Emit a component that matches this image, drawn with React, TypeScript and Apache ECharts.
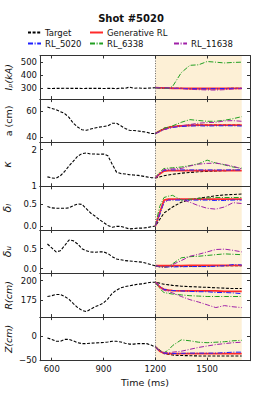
import React, { useEffect, useRef } from "react";
import * as echarts from "echarts";

// ---------- data ----------
const timeTarget = [575, 600, 625, 650, 675, 700, 725, 750, 775, 800, 825, 850, 875, 900, 925, 950, 975, 1000, 1025, 1050, 1075, 1100, 1125, 1150, 1175, 1200, 1250, 1300, 1350, 1400, 1450, 1500, 1550, 1600, 1650, 1700];
const timeRL = [1200, 1225, 1250, 1275, 1300, 1350, 1400, 1450, 1500, 1550, 1600, 1650, 1700];
const xTicks = [600, 900, 1200, 1500];

// Ip (kA)
const ipTarget = [300, 299, 300, 300, 301, 300, 300, 300, 299, 300, 300, 300, 300, 299, 300, 300, 298, 302, 300, 310, 300, 303, 300, 301, 303, 305, 302, 300, 300, 298, 298, 297, 298, 299, 300, 300];
const ipGen = [305, 304, 303, 302, 301, 300, 299, 299, 299, 299, 299, 300, 300];
const ip5020 = [305, 304, 303, 302, 300, 300, 298, 297, 297, 298, 299, 300, 300];
const ip6338 = [305, 303, 302, 300, 315, 420, 476, 480, 505, 500, 494, 498, 500];
const ip11638 = [305, 305, 304, 303, 302, 298, 293, 290, 288, 287, 290, 295, 298];
const ipTicks = [300, 400, 500];

// a (cm)
const aTarget = [63, 62, 61, 59.5, 58, 55, 50.5, 47.5, 45.5, 45, 46, 46.8, 47.5, 48, 48.5, 50.5, 50.5, 48.5, 46.5, 45, 44.8, 44.5, 44, 43.5, 42.5, 42.5, 46.5, 48, 48.5, 49, 49, 49, 49, 49, 49, 49];
const aGen = [42.5, 44.5, 46, 47, 47.8, 48.5, 48.8, 49, 49, 49, 49, 49, 49];
const a5020 = [42.5, 44, 45.5, 46.5, 47.2, 48, 48.3, 48.5, 48.3, 48.5, 48.5, 48.5, 48.3];
const a6338 = [42.5, 44.5, 46.5, 47.5, 48.5, 51.2, 53.3, 52.6, 52, 52, 52.8, 54, 55.6];
const a11638 = [42.5, 44, 45.5, 46.5, 47.5, 48.5, 49.5, 50.5, 51, 51.2, 52.3, 52.5, 52];
const aTicks = [40, 60];

// kappa
const kTarget = [1.25, 1.22, 1.21, 1.28, 1.4, 1.55, 1.68, 1.82, 1.89, 1.91, 1.88, 1.88, 1.87, 1.88, 1.83, 1.6, 1.38, 1.34, 1.33, 1.31, 1.3, 1.29, 1.27, 1.25, 1.23, 1.22, 1.28, 1.32, 1.35, 1.37, 1.39, 1.4, 1.41, 1.42, 1.43, 1.43];
const kGen = [1.22, 1.33, 1.41, 1.42, 1.42, 1.42, 1.42, 1.42, 1.42, 1.42, 1.42, 1.42, 1.42];
const k5020 = [1.22, 1.34, 1.43, 1.44, 1.44, 1.44, 1.44, 1.44, 1.44, 1.44, 1.44, 1.44, 1.44];
const k6338 = [1.22, 1.38, 1.48, 1.49, 1.5, 1.52, 1.56, 1.61, 1.71, 1.63, 1.58, 1.52, 1.49];
const k11638 = [1.22, 1.35, 1.45, 1.46, 1.47, 1.48, 1.55, 1.6, 1.62, 1.63, 1.59, 1.54, 1.47];
const kTicks = [1, 2];

// delta lower
const dlTarget = [0.45, 0.42, 0.41, 0.41, 0.41, 0.42, 0.47, 0.51, 0.5, 0.4, 0.3, 0.23, 0.15, 0.08, 0.01, -0.03, -0.01, -0.01, -0.04, -0.07, -0.06, -0.05, -0.05, -0.04, -0.02, 0.0, 0.3, 0.44, 0.55, 0.61, 0.64, 0.67, 0.7, 0.72, 0.73, 0.74];
const dlGen = [0.0, 0.3, 0.6, 0.62, 0.62, 0.62, 0.62, 0.62, 0.62, 0.62, 0.62, 0.62, 0.62];
const dl5020 = [0.0, 0.25, 0.55, 0.6, 0.6, 0.6, 0.6, 0.6, 0.6, 0.59, 0.59, 0.6, 0.6];
const dl6338 = [0.0, 0.45, 0.66, 0.69, 0.71, 0.6, 0.62, 0.64, 0.65, 0.66, 0.66, 0.66, 0.66];
const dl11638 = [0.0, 0.3, 0.55, 0.6, 0.61, 0.62, 0.55, 0.47, 0.41, 0.39, 0.44, 0.54, 0.52];
const dlTicks = [0.0, 0.5];

// delta upper
const duTarget = [0.62, 0.52, 0.42, 0.45, 0.58, 0.72, 0.7, 0.62, 0.5, 0.45, 0.42, 0.41, 0.42, 0.42, 0.38, 0.3, 0.24, 0.22, 0.2, 0.19, 0.18, 0.17, 0.16, 0.13, 0.1, 0.07, 0.06, 0.06, 0.06, 0.06, 0.06, 0.06, 0.07, 0.07, 0.07, 0.07];
const duGen = [0.07, 0.07, 0.07, 0.07, 0.075, 0.075, 0.08, 0.08, 0.08, 0.08, 0.08, 0.08, 0.08];
const du5020 = [0.07, 0.05, 0.04, 0.04, 0.04, 0.045, 0.05, 0.05, 0.05, 0.06, 0.07, 0.1, 0.09];
const du6338 = [0.07, 0.04, 0.03, 0.05, 0.12, 0.27, 0.3, 0.31, 0.33, 0.35, 0.37, 0.36, 0.35];
const du11638 = [0.07, 0.04, 0.03, 0.05, 0.1, 0.2, 0.31, 0.36, 0.42, 0.48, 0.49, 0.46, 0.42];
const duTicks = [0.0, 0.5];

// R (cm)
const rTarget = [180, 181, 182.5, 182.5, 180, 176.5, 171, 166, 162.5, 161, 164, 167, 169, 172, 177, 184, 188, 191, 192.5, 193.5, 194.5, 195.5, 196, 197, 198, 198, 195.5, 194, 193, 192.5, 192, 191.5, 191, 190.5, 190, 190];
const rGen = [198, 192, 189, 188, 187.5, 187, 187, 187, 187, 187, 186.5, 186.5, 186.5];
const r5020 = [198, 193, 189, 188, 187.5, 187, 186.5, 186, 186, 185, 185, 184.5, 183.5];
const r6338 = [198, 190, 185, 184, 183, 182, 181, 180.5, 180, 180, 180, 180, 180];
const r11638 = [198, 192, 188, 186, 184.5, 180, 176, 173, 169.5, 166, 168.5, 167, 166];
const rTicks = [175, 200];

// Z (cm)
const zTarget = [-4, -7, -11, -11, -7, -7, -10, -14, -16, -16, -15, -14.5, -14, -13.5, -12.5, -11, -11, -12.5, -15, -17, -17, -16, -16, -16, -19, -23, -37, -40, -41, -41.5, -42, -42, -42, -42, -42, -42];
const zGen = [-23, -32, -36, -37, -37, -37, -37, -37, -37, -37, -37, -37, -37];
const z5020 = [-23, -32, -36, -37, -37, -36.5, -36, -36, -36, -36, -35, -34, -34];
const z6338 = [-23, -30, -35, -30, -20, -8, -10, -13, -14, -13, -12, -10, -9];
const z11638 = [-23, -31, -35, -35, -34, -32, -28, -24, -21, -18, -16, -14, -13];
const zTicks = [-50, 0];

const seriesNames = ["Target", "Generative RL", "RL_5020", "RL_6338", "RL_11638"];

const panels = [
  { label: "I\u209A(kA)", italic: true, size: 9.5, min: 218, max: 551, ticks: ipTicks, dec: 0, vals: [ipTarget, ipGen, ip5020, ip6338, ip11638] },
  { label: "a (cm)", italic: false, size: 9.5, min: 35.4, max: 69.2, ticks: aTicks, dec: 0, vals: [aTarget, aGen, a5020, a6338, a11638] },
  { label: "\u03BA", italic: true, size: 11, min: 0.99, max: 2.19, ticks: kTicks, dec: 0, vals: [kTarget, kGen, k5020, k6338, k11638] },
  { label: "\u03B4\u2097", italic: true, size: 11, min: -0.092, max: 0.92, ticks: dlTicks, dec: 1, vals: [dlTarget, dlGen, dl5020, dl6338, dl11638] },
  { label: "\u03B4\u1D64", italic: true, size: 11, min: -0.125, max: 0.975, ticks: duTicks, dec: 1, vals: [duTarget, duGen, du5020, du6338, du11638] },
  { label: "R(cm)", italic: true, size: 9.5, min: 154, max: 209, ticks: rTicks, dec: 0, vals: [rTarget, rGen, r5020, r6338, r11638] },
  { label: "Z(cm)", italic: true, size: 9.5, min: -52, max: 40, ticks: zTicks, dec: 0, vals: [zTarget, zGen, z5020, z6338, z11638] },
];

// ---------- styles ----------
const FONT = "DejaVu Sans";
const AXIS = "#333";
const TXT = "#111";
const X_MIN = 532;
const X_MAX = 1748;
const SHADE = [1200, 1700];
const styles = [
  { color: "#000000", width: 1.1, type: [3, 1.6] },
  { color: "#ff2a2a", width: 1.8, type: "solid" },
  { color: "#1f1fff", width: 1, type: [5, 1.6, 1, 1.6] },
  { color: "#22a022", width: 1, type: [5, 1.6, 1, 1.6] },
  { color: "#a020a8", width: 1, type: [5, 1.6, 1, 1.6] },
];

function fmt(v: number, dec: number) {
  const s = v.toFixed(dec);
  return s.startsWith("-") ? "\u2212" + s.slice(1) : s;
}

export default function App() {
  const ref = useRef<HTMLDivElement>(null);
  useEffect(() => {
    if (!ref.current) return;
    const chart = echarts.init(ref.current, null, { renderer: "svg" });
    const top0 = 55.5;
    const h = 43.6;
    const grids: any[] = [];
    const xAxes: any[] = [];
    const yAxes: any[] = [];
    const series: any[] = [];
    panels.forEach((p, i) => {
      const isLast = i === panels.length - 1;
      grids.push({ left: 40, top: top0 + i * h, width: 210, height: h, outerBoundsMode: "none", containLabel: false });
      const xBase = {
        type: "value",
        gridIndex: i,
        min: X_MIN,
        max: X_MAX,
        z: 10,
        splitLine: { show: false },
        axisLine: { show: true, onZero: false, lineStyle: { color: AXIS, width: 1 } },
        axisTick: { show: true, inside: true, length: 3, customValues: xTicks, lineStyle: { color: AXIS, width: 1 } },
      };
      xAxes.push({
        ...xBase,
        position: "bottom",
        axisLabel: {
          show: isLast,
          customValues: xTicks,
          margin: 4,
          fontSize: 8.5,
          color: TXT,
          fontFamily: FONT,
          formatter: (v: number) => String(v),
        },
        name: isLast ? "Time (ms)" : "",
        nameLocation: "middle",
        nameGap: 17,
        nameMoveOverlap: false,
        nameTextStyle: { fontSize: 9.5, color: TXT, fontFamily: FONT },
      });
      xAxes.push({ ...xBase, position: "top", axisLabel: { show: false } });
      const yBase = {
        type: "value",
        gridIndex: i,
        min: p.min,
        max: p.max,
        z: 10,
        splitLine: { show: false },
        axisLine: { show: true, onZero: false, lineStyle: { color: AXIS, width: 1 } },
        axisTick: { show: true, inside: true, length: 3, customValues: p.ticks, lineStyle: { color: AXIS, width: 1 } },
      };
      yAxes.push({
        ...yBase,
        position: "left",
        axisLabel: {
          show: true,
          customValues: p.ticks,
          margin: 3,
          fontSize: 8.5,
          color: TXT,
          fontFamily: FONT,
          formatter: (v: number) => fmt(v, p.dec),
        },
        name: p.label,
        nameLocation: "middle",
        nameGap: 27,
        nameRotate: 90,
        nameMoveOverlap: false,
        nameTextStyle: { fontSize: p.size, color: TXT, fontFamily: FONT, fontStyle: p.italic ? "italic" : "normal" },
      });
      yAxes.push({ ...yBase, position: "right", axisLabel: { show: false } });
      const xi = i * 2;
      const yi = i * 2;
      series.push({
        type: "line",
        name: "_shade" + i,
        xAxisIndex: xi,
        yAxisIndex: yi,
        data: [],
        z: 1,
        silent: true,
        markArea: {
          silent: true,
          itemStyle: { color: "#fdf0d6" },
          data: [[{ xAxis: SHADE[0] }, { xAxis: SHADE[1] }]],
        },
        markLine: {
          silent: true,
          symbol: "none",
          label: { show: false },
          lineStyle: { type: [1, 1.5], color: "#666", width: 1 },
          data: [{ xAxis: SHADE[0] }],
        },
      });
      p.vals.forEach((vals, k) => {
        const times = k === 0 ? timeTarget : timeRL;
        const st = styles[k];
        series.push({
          type: "line",
          name: seriesNames[k],
          xAxisIndex: xi,
          yAxisIndex: yi,
          data: times.map((t, j) => [t, vals[j]]),
          symbol: "none",
          showSymbol: false,
          smooth: false,
          z: 2,
          lineStyle: { color: st.color, width: st.width, type: st.type },
          itemStyle: { color: st.color },
        });
      });
    });

    const legendCommon = {
      padding: 0,
      itemWidth: 13,
      itemHeight: 8,
      itemGap: 0,
      selectedMode: false,
      itemStyle: { opacity: 0 },
      textStyle: { fontSize: 8.5, color: TXT, fontFamily: FONT, padding: [0, 0, 0, -1] },
    };
    const legendPos = [
      { left: 27, top: 28 },
      { left: 89, top: 28 },
      { left: 27, top: 39 },
      { left: 89, top: 39 },
      { left: 173, top: 39 },
    ];

    chart.setOption({
      animation: false,
      backgroundColor: "#ffffff",
      title: {
        text: "Shot #5020",
        left: "center",
        top: 8,
        textStyle: { fontSize: 10, fontWeight: "bold", fontFamily: FONT, color: TXT },
      },
      legend: seriesNames.map((n, k) => ({ ...legendCommon, ...legendPos[k], data: [n] })),
      grid: grids,
      xAxis: xAxes,
      yAxis: yAxes,
      series,
    });
    return () => chart.dispose();
  }, []);
  return (
    <div
      ref={ref}
      style={{ position: "fixed", left: 0, top: 0, width: 262, height: 393, background: "#fff" }}
    />
  );
}
